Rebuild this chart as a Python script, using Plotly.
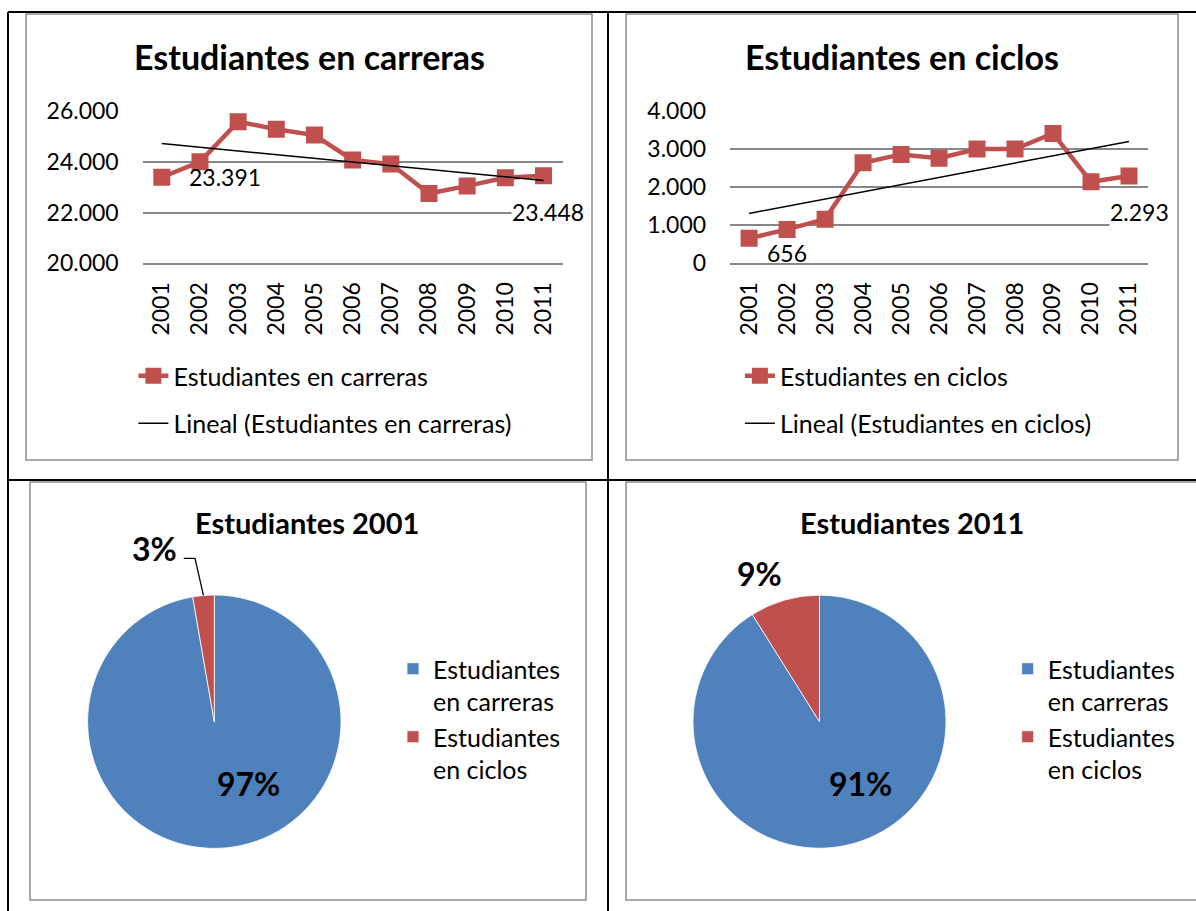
import numpy as np
import plotly.graph_objects as go

# ---- data -------------------------------------------------------------
years = ["2001", "2002", "2003", "2004", "2005", "2006",
         "2007", "2008", "2009", "2010", "2011"]
carreras = [23391, 24000, 25580, 25280, 25050, 24070,
            23910, 22750, 23050, 23370, 23448]
ciclos = [656, 890, 1160, 2640, 2860, 2760,
          3000, 3000, 3410, 2140, 2293]
pie_labels = ["Estudiantes<br>en carreras", "Estudiantes<br>en ciclos"]
ticks_carreras = [20000, 22000, 24000, 26000]
ticks_ciclos = [0, 1000, 2000, 3000, 4000]

# ---- page geometry / style -------------------------------------------
W, H = 1196, 911
RED = "#C0504D"
BLUE = "#4F81BD"
GRID = "#878787"
BOX = "#8C8C8C"
FONT = "Lato"


def px(x):
    return x / W


def py(y):
    return 1 - y / H


def trend(vals):
    idx = np.arange(len(vals))
    m, b = np.polyfit(idx, vals, 1)
    return m * idx + b


def thousands(v):
    return f"{int(v):,}".replace(",", ".")


def pct(part, whole):
    return f"{round(100 * part / whole)}%"


fig = go.Figure()

# ---- line charts -----------------------------------------------------
for data, name, xa, ya, leg in [
    (carreras, "Estudiantes en carreras", "x", "y", "legend"),
    (ciclos, "Estudiantes en ciclos", "x2", "y2", "legend2"),
]:
    fig.add_trace(go.Scatter(
        x=years, y=data, mode="lines+markers", name=name,
        line=dict(color=RED, width=4.5),
        marker=dict(symbol="square", size=17, color=RED),
        xaxis=xa, yaxis=ya, legend=leg, legendgroup=name,
    ))
    fig.add_trace(go.Scatter(
        x=years, y=trend(data), mode="lines",
        name=f"Lineal ({name})",
        line=dict(color="black", width=1.5),
        xaxis=xa, yaxis=ya, legend=leg, legendgroup="lin " + name,
    ))

# ---- pie charts ------------------------------------------------------
# pie legend entries are shared by label across pies, so the second pie
# gets its own (visually identical) label strings to keep its own legend
pie_2001 = [carreras[0], ciclos[0]]
pie_2011 = [carreras[-1], ciclos[-1]]
for vals, labels, dom_x, leg in [
    (pie_2001, pie_labels, [px(87.6), px(341.0)], "legend3"),
    (pie_2011, [l + " " for l in pie_labels], [px(693.0), px(946.0)], "legend4"),
]:
    fig.add_trace(go.Pie(
        labels=labels, values=vals, sort=False,
        direction="clockwise", rotation=0,
        marker=dict(colors=[BLUE, RED], line=dict(color="white", width=0.8)),
        textinfo="none", hoverinfo="label+percent",
        domain=dict(x=dom_x, y=[py(848.4), py(595.0)]),
        legend=leg,
    ))

# ---- axes ------------------------------------------------------------
tick_font = dict(family=FONT, size=23, color="black")


def xaxis(domain, anchor):
    return dict(domain=domain, anchor=anchor, type="category",
                range=[-0.5, len(years) - 0.5], tickangle=-90,
                showgrid=False, zeroline=False, showline=True,
                linecolor=GRID, linewidth=1.5, ticks="",
                ticklabelstandoff=8, tickfont=tick_font, automargin=False)


def yaxis(domain, anchor, rng, ticks):
    return dict(domain=domain, anchor=anchor, range=rng,
                tickvals=ticks, ticktext=[thousands(t) for t in ticks],
                showgrid=True, gridcolor=GRID, gridwidth=1.5,
                zeroline=False, showline=False, ticks="",
                ticklabelstandoff=23, tickfont=tick_font, automargin=False)


ydom = [py(263.3), py(111.0)]

legend_common = dict(xanchor="left", yanchor="top",
                     font=dict(family=FONT, size=25, color="black"),
                     bgcolor="rgba(0,0,0,0)", borderwidth=0)

fig.update_layout(
    width=W, height=H,
    margin=dict(l=0, r=0, t=0, b=0, autoexpand=False),
    paper_bgcolor="white", plot_bgcolor="white",
    separators=",.",
    xaxis=xaxis([px(142.7), px(562.6)], "y"),
    yaxis=yaxis(ydom, "x", [20000, 26000], ticks_carreras),
    xaxis2=xaxis([px(730.1), px(1148.0)], "y2"),
    yaxis2=yaxis(ydom, "x2", [0, 4000], ticks_ciclos),
    legend=dict(x=px(133.4), y=py(353), traceorder="grouped",
                tracegroupgap=12, **legend_common),
    legend2=dict(x=px(739.9), y=py(353), traceorder="grouped",
                 tracegroupgap=12, **legend_common),
    legend3=dict(x=px(393.0), y=py(646), valign="top", **legend_common),
    legend4=dict(x=px(1007.7), y=py(646), valign="top", **legend_common),
)

# ---- titles and value labels -------------------------------------------
ann = []
title_font = dict(family=FONT, size=34, color="black", weight="bold")
pie_title_font = dict(family=FONT, size=29, color="black", weight="bold")
for text, x, y, f in [
    ("Estudiantes en carreras", 309, 57, title_font),
    ("Estudiantes en ciclos", 902, 57, title_font),
    ("Estudiantes 2001", 307, 522, pie_title_font),
    ("Estudiantes 2011", 912, 522, pie_title_font),
]:
    ann.append(dict(text=text, x=px(x), y=py(y), xref="paper", yref="paper",
                    xanchor="center", yanchor="middle", showarrow=False, font=f))

# first and last values of each series, positioned on the category index;
# the right-hand labels sit on a white box that masks the gridline behind
label_font = dict(family=FONT, size=23, color="black")
last = len(years) - 1
for xa, ya, i, val, xanchor, xs, ys, bg in [
    ("x", "y", 0, carreras[0], "left", 26, 0, "rgba(0,0,0,0)"),
    ("x", "y", last, carreras[-1], "center", 4, -36, "white"),
    ("x2", "y2", 0, ciclos[0], "center", 38, -15, "rgba(0,0,0,0)"),
    ("x2", "y2", last, ciclos[-1], "center", 10, -36, "white"),
]:
    ann.append(dict(text=thousands(val), x=i, y=val, xref=xa, yref=ya,
                    xanchor=xanchor, yanchor="middle", xshift=xs, yshift=ys,
                    showarrow=False, bgcolor=bg, borderpad=0,
                    font=label_font))

pct_font = dict(family=FONT, size=32, color="black", weight="bold")
for text, x, y in [
    (pct(pie_2001[0], sum(pie_2001)), 248, 783),
    (pct(pie_2001[1], sum(pie_2001)), 154, 548),
    (pct(pie_2011[0], sum(pie_2011)), 860, 783),
    (pct(pie_2011[1], sum(pie_2011)), 759, 573),
]:
    ann.append(dict(text=text, x=px(x), y=py(y), xref="paper", yref="paper",
                    xanchor="center", yanchor="middle", showarrow=False,
                    font=pct_font))
fig.update_layout(annotations=ann)

# ---- table grid, chart frames and the leader line of the small slice ---
shapes = []
for x0, y0, x1, y1 in [
    (8, 12, 1200, 12), (8, 12, 8, 915), (608, 12, 608, 915), (8, 480, 1200, 480),
]:
    shapes.append(dict(type="line", xref="paper", yref="paper",
                       x0=px(x0), y0=py(y0), x1=px(x1), y1=py(y1),
                       line=dict(color="black", width=2)))
for x0, y0, x1, y1 in [
    (26, 14, 592, 460), (626, 14, 1178, 460),
    (30, 482, 586, 900), (626, 482, 1205, 900),
]:
    shapes.append(dict(type="rect", xref="paper", yref="paper", layer="below",
                       x0=px(x0), y0=py(y0), x1=px(x1), y1=py(y1),
                       line=dict(color=BOX, width=1.5), fillcolor="white"))

# leader from the "3%" label to the middle of the small 2001 slice
cx, cy, r = 214.3, 721.7, 126.7
mid = 2 * np.pi * (1 - 0.5 * pie_2001[1] / sum(pie_2001))
ex, ey = cx + r * np.sin(mid), cy - r * np.cos(mid)
shapes.append(dict(type="path", xref="paper", yref="paper",
                   path=f"M {px(183.7)} {py(558.3)} L {px(195)} {py(558.3)} "
                        f"L {px(ex)} {py(ey)}",
                   line=dict(color="black", width=1.3)))
fig.update_layout(shapes=shapes)

fig.write_html("out.html")
